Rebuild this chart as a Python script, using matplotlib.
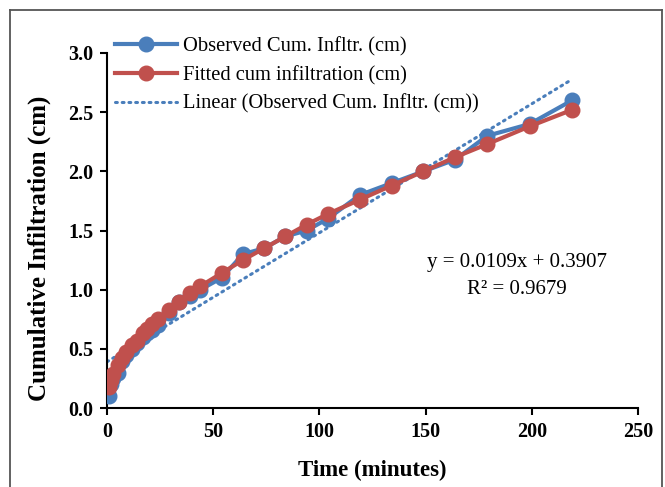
import matplotlib
matplotlib.use("Agg")
import matplotlib.pyplot as plt
from matplotlib.lines import Line2D

# Данные: время (мин) и кумулятивная инфильтрация (см)
time_min = [1, 2, 3, 5, 7, 9, 12, 14, 17, 19, 21, 24, 29, 34, 39, 44, 54, 64,
            74, 84, 94, 104, 119, 134, 149, 164, 179, 199, 219]
observed = [0.10, 0.20, 0.25, 0.30, 0.40, 0.45, 0.50, 0.55, 0.60, 0.63, 0.66,
            0.70, 0.80, 0.90, 0.95, 1.00, 1.10, 1.30, 1.35, 1.45, 1.50, 1.60,
            1.80, 1.90, 2.00, 2.10, 2.30, 2.40, 2.60]
fitted = [0.18, 0.24, 0.29, 0.36, 0.42, 0.47, 0.53, 0.57, 0.63, 0.67, 0.71,
          0.75, 0.83, 0.90, 0.97, 1.03, 1.14, 1.25, 1.35, 1.45, 1.55, 1.64,
          1.76, 1.88, 2.00, 2.12, 2.23, 2.38, 2.52]

# Линейный тренд (из подписи на графике)
slope = 0.0109
intercept = 0.3907
r2 = 0.9679
trend_x = [0, 219]

plt.rcParams['font.family'] = ['Liberation Serif', 'DejaVu Serif']

W, H = 665, 487
fig = plt.figure(figsize=(W / 100, H / 100), dpi=100)
ax = fig.add_axes([107 / W, 1 - 408 / H, (638 - 107) / W, (408 - 53) / H])

blue = '#4a7ebb'
red = '#c0504d'

ax.plot(time_min, observed, color=blue, lw=3, marker='o', ms=10.5,
        label='Observed Cum. Infltr. (cm)', zorder=3)
ax.plot(time_min, fitted, color=red, lw=3, marker='o', ms=10.5,
        label='Fitted cum infiltration (cm)', zorder=4)
ax.plot(trend_x, [slope * x + intercept for x in trend_x], color=blue, lw=2.2,
        ls=(0, (0.6, 1.6)), dash_capstyle='round',
        label='Linear (Observed Cum. Infltr. (cm))', zorder=2)

ax.set_xlim(0, 250)
ax.set_ylim(0, 3.0)
ax.set_xticks([0, 50, 100, 150, 200, 250])
ax.set_yticks([0, 0.5, 1.0, 1.5, 2.0, 2.5, 3.0])
ax.set_yticklabels(['%.1f' % v for v in ax.get_yticks()])
for s in ['top', 'right']:
    ax.spines[s].set_visible(False)
for s in ['left', 'bottom']:
    ax.spines[s].set_linewidth(1.5)
ax.tick_params(direction='out', length=5, width=1.5, labelsize=14.5, pad=5)
for lab in ax.get_xticklabels() + ax.get_yticklabels():
    lab.set_fontweight('bold')

ax.set_xlabel('Time (minutes)', fontsize=16.5, fontweight='bold', labelpad=13)
ax.set_ylabel('Cumulative Infiltration (cm)', fontsize=18, fontweight='bold')
ax.yaxis.set_label_coords(-0.106, 0.45)

# подпись уравнения тренда
fig.text(517 / W, 1 - 262 / H, 'y = 0.0109x + 0.3907', fontsize=15,
         ha='center', va='center')
fig.text(517 / W, 1 - 290 / H, 'R² = %.4f' % r2, fontsize=15,
         ha='center', va='center')

leg = ax.legend(loc='upper left', bbox_to_anchor=(115 / W, 1 - 37 / H),
                bbox_transform=fig.transFigure, frameon=False, fontsize=14.8,
                handlelength=3.0, handletextpad=0.3, labelspacing=0.45,
                borderaxespad=0, borderpad=0)

# рамка вокруг области диаграммы (без нижней линии)
for xs, ys in [([10, 10], [H, 10]), ([10, 662], [10, 10]), ([662, 662], [10, H])]:
    fig.add_artist(Line2D([x / W for x in xs], [1 - y / H for y in ys],
                          transform=fig.transFigure, color='#555555', lw=1.3))

fig.savefig('out.png', dpi=100)
